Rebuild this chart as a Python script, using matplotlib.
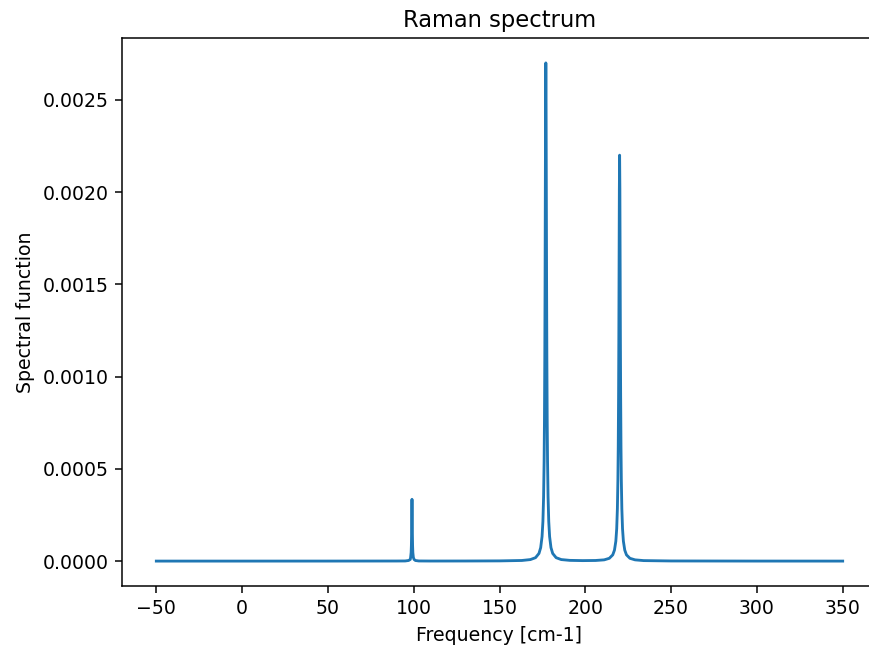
import matplotlib
matplotlib.use("Agg")
import matplotlib.pyplot as plt

frequency = [-50, 0, 50, 90, 95, 97, 98, 98.2, 98.5, 98.65, 98.8, 98.9, 99,
             99.1, 99.2, 99.35, 99.5, 99.8, 100.2, 101, 103, 110, 130, 150,
             163, 168, 171, 173, 174, 174.8, 175.3, 175.7, 176, 176.2, 176.4,
             176.55, 176.7, 176.85, 177, 177.15, 177.3, 177.45, 177.6, 177.8,
             178, 178.3, 178.7, 179.2, 180, 181, 183, 186, 191, 198.5, 206, 211,
             214, 216, 217, 217.8, 218.3, 218.7, 219, 219.2, 219.4, 219.55, 219.7,
             219.85, 220, 220.15, 220.3, 220.45, 220.6, 220.8, 221, 221.3, 221.7,
             222.2, 223, 224, 226, 229, 234, 250, 300, 350]
intensity = [0.0000001, 0.0000001, 0.0000002, 0.0000005, 0.0000008, 0.0000033,
             0.0000091, 0.0000197, 0.0000462, 0.0000834, 0.000168, 0.000268,
             0.000335, 0.000268, 0.000168, 0.0000834, 0.0000462, 0.0000197,
             0.0000091, 0.0000033, 0.0000008, 0.0000004, 0.0000006, 0.0000012,
             0.0000034, 0.0000083, 0.0000186, 0.0000415, 0.0000730, 0.000133,
             0.000215, 0.000349, 0.000540, 0.000759, 0.001107, 0.001492,
             0.001985, 0.002477, 0.0027, 0.002477, 0.001985, 0.001492, 0.001107,
             0.000759, 0.000540, 0.000349, 0.000215, 0.000133, 0.0000730,
             0.0000415, 0.0000186, 0.0000083, 0.0000040, 0.0000027, 0.0000034,
             0.0000068, 0.0000152, 0.0000338, 0.0000595, 0.000108, 0.000175,
             0.000284, 0.000440, 0.000618, 0.000902, 0.001215, 0.001618,
             0.002018, 0.0022, 0.002018, 0.001618, 0.001215, 0.000902, 0.000618,
             0.000440, 0.000284, 0.000175, 0.000108, 0.0000595, 0.0000338,
             0.0000152, 0.0000068, 0.0000028, 0.0000008, 0.0000002, 0.0000001]

W, H = 869, 650
dpi = 135.78
fig = plt.figure(figsize=(W / dpi, H / dpi), dpi=dpi)
ax = fig.add_axes([122 / W, 64 / H, (877 - 122) / W, 548 / H])
ax.plot(frequency, intensity, color="#1f77b4", linewidth=1.5)
ax.set_xlim(-70, 370)
ax.set_xticks([-50, 0, 50, 100, 150, 200, 250, 300, 350])
ax.set_xlabel("Frequency [cm-1]")
ax.set_ylabel("Spectral function")
ax.set_title("Raman spectrum")
fig.savefig("out.png", dpi=dpi)
